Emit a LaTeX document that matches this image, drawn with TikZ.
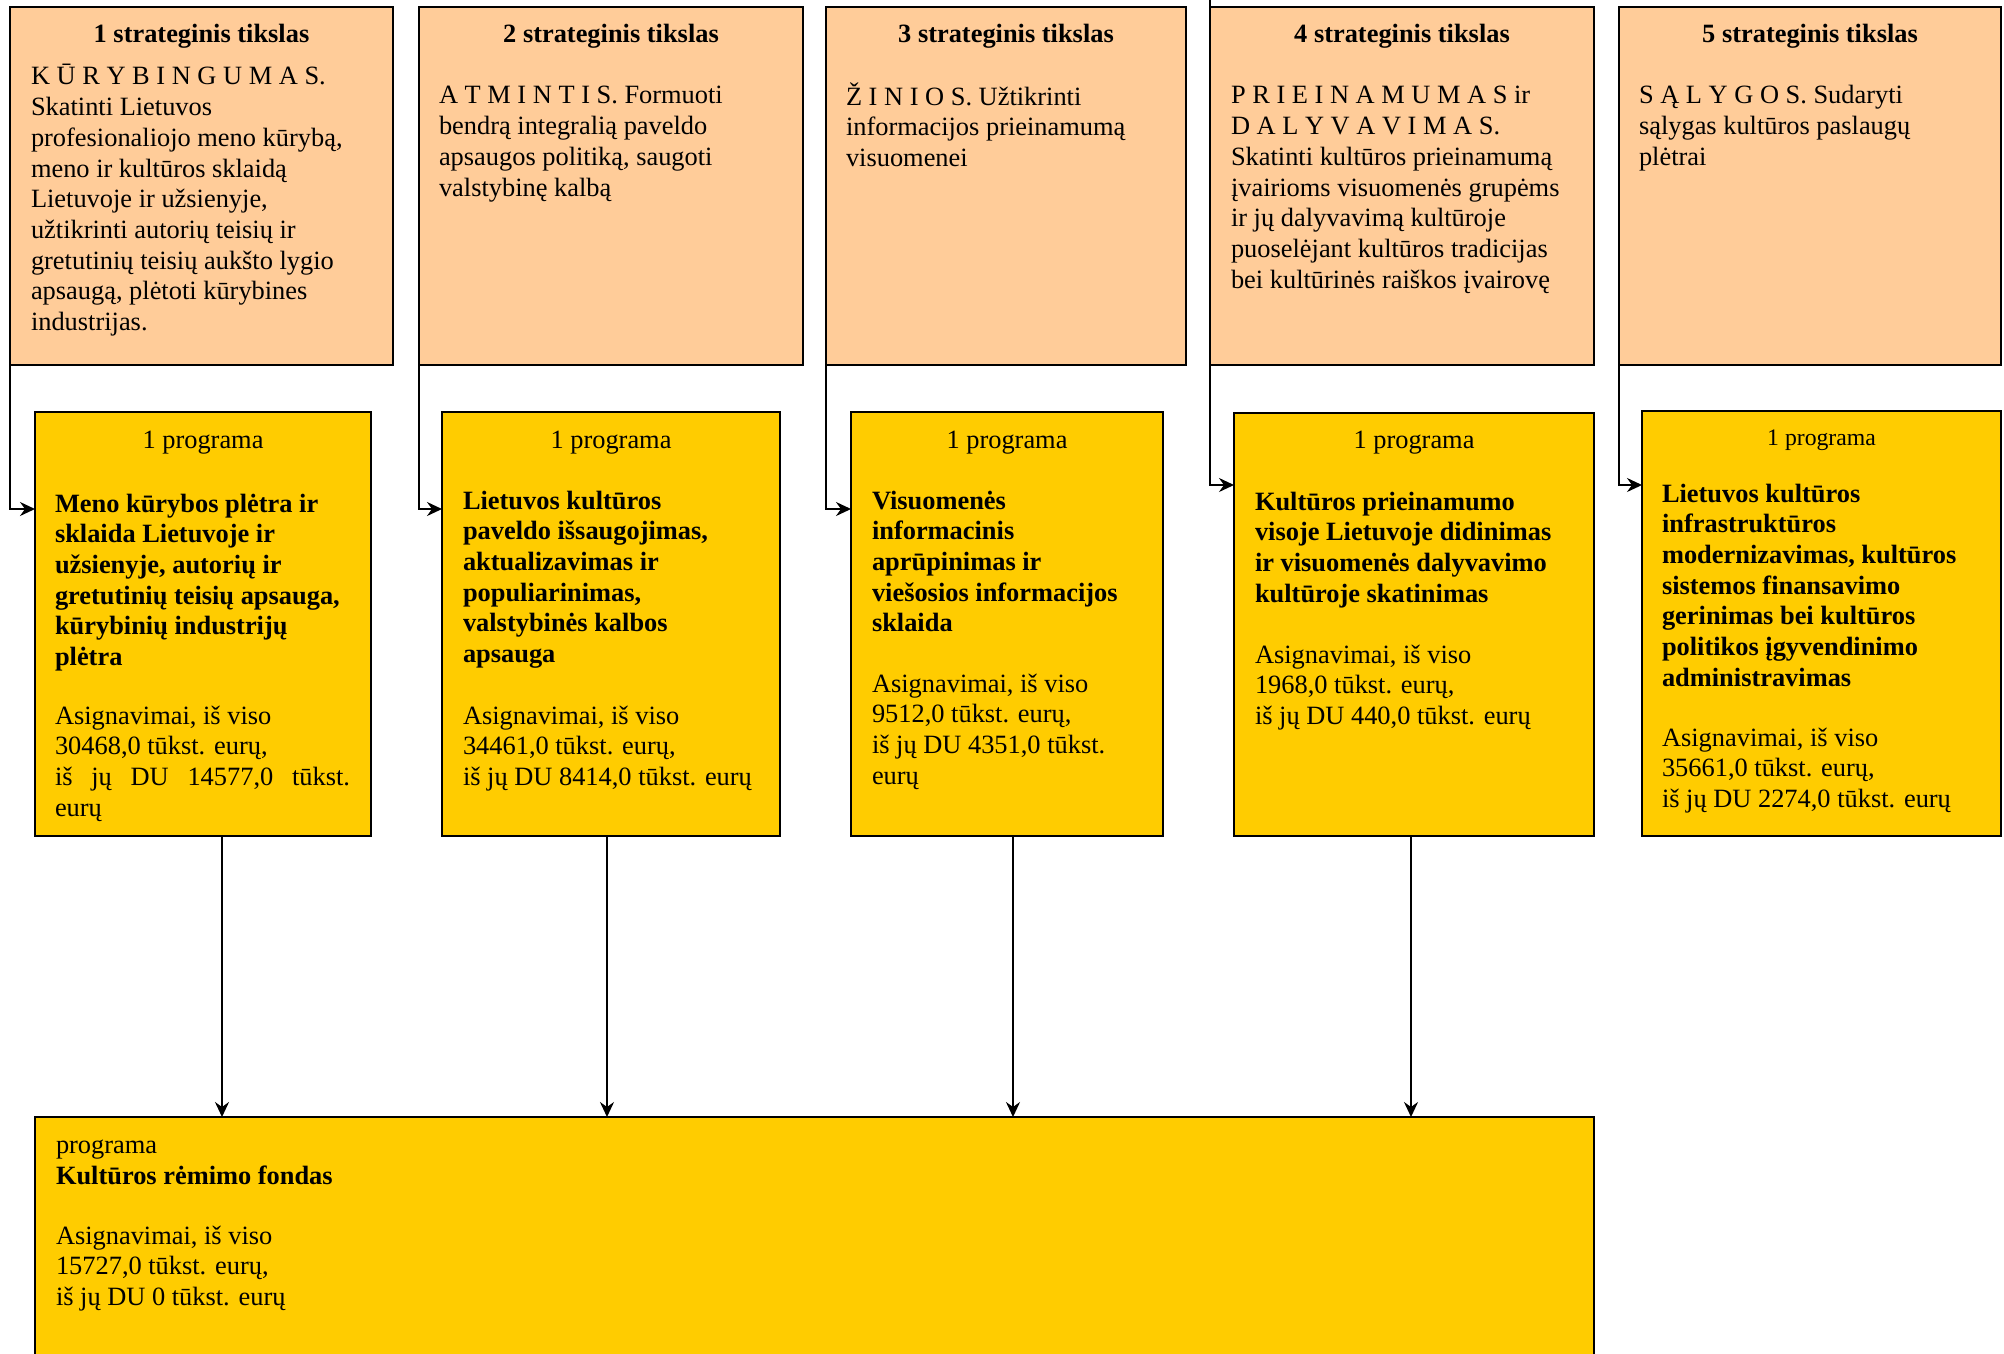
\documentclass[tikz,border=0pt]{standalone}
\usepackage{fontspec}
\setmainfont{Liberation Serif}
\usetikzlibrary{arrows.meta}
\definecolor{peach}{HTML}{FFCC99}
\definecolor{gold}{HTML}{FFCC00}
\newcommand\fsN{\fontsize{26.4}{30.7}\selectfont}
\newcommand\fsS{\fontsize{23.7}{28}\selectfont}
\begin{document}
\begin{tikzpicture}[x=1pt,y=-1pt,
  goal/.style={draw=black, line width=2pt, fill=peach, anchor=north west, inner sep=0pt, outer sep=0pt},
  prog/.style={draw=black, line width=2pt, fill=gold, anchor=north west, inner sep=0pt, outer sep=0pt},
  txt/.style={anchor=north west, inner sep=0pt, outer sep=0pt, align=left, font=\fsN},
  ttl/.style={anchor=base, inner sep=0pt, outer sep=0pt, font=\fsN\bfseries},
  lbl/.style={anchor=base, inner sep=0pt, outer sep=0pt, font=\fsN},
  conn/.style={line width=2pt},
  arr/.style={line width=2pt, -{Stealth[length=15pt,width=14pt,inset=5pt]}}]
\useasboundingbox (0,0) rectangle (2004,1353);
\clip (0,0) rectangle (2004,1353);

% strategic goal boxes
\node[goal, minimum width=383pt, minimum height=358pt] (T1) at (10,7) {};
\node[goal, minimum width=384pt, minimum height=358pt] (T2) at (419,7) {};
\node[goal, minimum width=360pt, minimum height=358pt] (T3) at (826,7) {};
\node[goal, minimum width=384pt, minimum height=358pt] (T4) at (1210,7) {};
\node[goal, minimum width=382pt, minimum height=358pt] (T5) at (1619,7) {};

\node[ttl] (T1h) at (201.5,42) {1 strateginis tikslas};
\node[ttl] (T2h) at (611,42) {2 strateginis tikslas};
\node[ttl] (T3h) at (1006,42) {3 strateginis tikslas};
\node[ttl] (T4h) at (1402,42) {4 strateginis tikslas};
\node[ttl] (T5h) at (1810,42) {5 strateginis tikslas};

\node[txt] (T1b) at (31,63.5) {\strut K Ū R Y B I N G U M A S.\\Skatinti Lietuvos\\profesionaliojo meno kūrybą,\\meno ir kultūros sklaidą\\Lietuvoje ir užsienyje,\\užtikrinti autorių teisių ir\\gretutinių teisių aukšto lygio\\apsaugą, plėtoti kūrybines\\industrijas.};
\node[txt] (T2b) at (439,82.5) {\strut A T M I N T I S. Formuoti\\bendrą integralią paveldo\\apsaugos politiką, saugoti\\valstybinę kalbą};
\node[txt] (T3b) at (846,82.5) {\strut Ž I N I O S. Užtikrinti\\informacijos prieinamumą\\visuomenei};
\node[txt] (T4b) at (1231,82.5) {\strut P R I E I N A M U M A S ir\\D A L Y V A V I M A S.\\Skatinti kultūros prieinamumą\\įvairioms visuomenės grupėms\\ir jų dalyvavimą kultūroje\\puoselėjant kultūros tradicijas\\bei kultūrinės raiškos įvairovę};
\node[txt] (T5b) at (1639,82.5) {\strut S Ą L Y G O S. Sudaryti\\sąlygas kultūros paslaugų\\plėtrai};

% programme boxes
\node[prog, minimum width=336pt, minimum height=424pt] (P1) at (35,412) {};
\node[prog, minimum width=338pt, minimum height=424pt] (P2) at (442,412) {};
\node[prog, minimum width=312pt, minimum height=424pt] (P3) at (851,412) {};
\node[prog, minimum width=360pt, minimum height=423pt] (P4) at (1234,413) {};
\node[prog, minimum width=359pt, minimum height=425pt] (P5) at (1642,411) {};

\node[lbl] (P1h) at (203,448) {1 programa};
\node[lbl] (P2h) at (611,448) {1 programa};
\node[lbl] (P3h) at (1007,448) {1 programa};
\node[lbl] (P4h) at (1414,448) {1 programa};
\node[lbl, font=\fsS] (P5h) at (1821.5,445) {1 programa};

\node[txt, font=\fsN\bfseries] (P1t) at (55,490.5) {\strut Meno kūrybos plėtra ir\\sklaida Lietuvoje ir\\užsienyje, autorių ir\\gretutinių teisių apsauga,\\kūrybinių industrijų\\plėtra};
\node[txt, font=\fsN\bfseries] (P2t) at (463,487.5) {\strut Lietuvos kultūros\\paveldo išsaugojimas,\\aktualizavimas ir\\populiarinimas,\\valstybinės kalbos\\apsauga};
\node[txt, font=\fsN\bfseries] (P3t) at (872,487.5) {\strut Visuomenės\\informacinis\\aprūpinimas ir\\viešosios informacijos\\sklaida};
\node[txt, font=\fsN\bfseries] (P4t) at (1255,488.5) {\strut Kultūros prieinamumo\\visoje Lietuvoje didinimas\\ir visuomenės dalyvavimo\\kultūroje skatinimas};
\node[txt, font=\fsN\bfseries] (P5t) at (1662,480.5) {\strut Lietuvos kultūros\\infrastruktūros\\modernizavimas, kultūros\\sistemos finansavimo\\gerinimas bei kultūros\\politikos įgyvendinimo\\administravimas};

\node[txt] (P1a) at (55,702.5) {\strut Asignavimai, iš viso\\30468,0 tūkst. eurų,\\\makebox[295pt][s]{iš jų DU 14577,0 tūkst.}\\eurų};
\node[txt] (P2a) at (463,702.5) {\strut Asignavimai, iš viso\\34461,0 tūkst. eurų,\\iš jų DU 8414,0 tūkst. eurų};
\node[txt] (P3a) at (872,670.5) {\strut Asignavimai, iš viso\\9512,0 tūkst. eurų,\\iš jų DU 4351,0 tūkst.\\eurų};
\node[txt] (P4a) at (1255,641.5) {\strut Asignavimai, iš viso\\1968,0 tūkst. eurų,\\iš jų DU 440,0 tūkst. eurų};
\node[txt] (P5a) at (1662,724.5) {\strut Asignavimai, iš viso\\35661,0 tūkst. eurų,\\iš jų DU 2274,0 tūkst. eurų};

% bottom box
\node[prog, minimum width=1559pt, minimum height=260pt] (B) at (35,1117) {};
\node[lbl, anchor=base west] (Bh) at (56,1153) {programa};
\node[lbl, anchor=base west, font=\fsN\bfseries] (Bt) at (56,1184) {Kultūros rėmimo fondas};
\node[txt] (Ba) at (56,1222.5) {\strut Asignavimai, iš viso\\15727,0 tūkst. eurų,\\iš jų DU 0 tūkst. eurų};

% connectors goal -> programme
\draw[arr] (T1.south west) |- ([yshift=-97pt]P1.north west);
\draw[arr] (T2.south west) |- ([yshift=-97pt]P2.north west);
\draw[arr] (T3.south west) |- ([yshift=-97pt]P3.north west);
\draw[arr] (T4.south west) |- ([yshift=-72pt]P4.north west);
\draw[arr] (T5.south west) |- ([yshift=-74pt]P5.north west);
\draw[conn] (T4.north west) -- ++(0,-8);

% programme -> fund
\draw[arr] ([xshift=19pt]P1.south) -- ([xshift=19pt]P1.south |- B.north);
\draw[arr] ([xshift=-4pt]P2.south) -- ([xshift=-4pt]P2.south |- B.north);
\draw[arr] ([xshift=6pt]P3.south) -- ([xshift=6pt]P3.south |- B.north);
\draw[arr] ([xshift=-3pt]P4.south) -- ([xshift=-3pt]P4.south |- B.north);
\end{tikzpicture}
\end{document}
